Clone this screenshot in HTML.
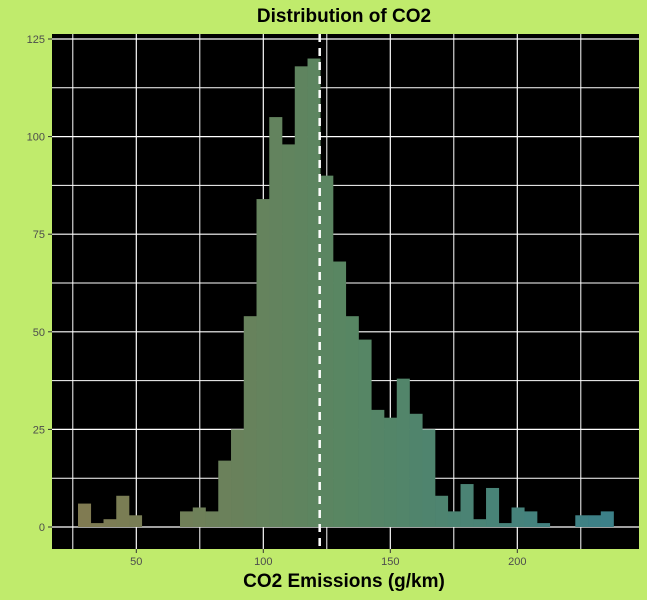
<!DOCTYPE html>
<html><head><meta charset="utf-8"><style>
html,body{margin:0;padding:0;background:#c0eb6c;}
svg{display:block;font-family:"Liberation Sans",sans-serif;}
</style></head><body>
<svg id="chart" width="647" height="600">
<rect x="0" y="0" width="647" height="600" fill="#c0eb6c"/>
<rect x="52" y="34" width="587" height="515" fill="#000"/>
<g id="grid"></g><g id="bars"></g><g id="axes"></g>
<text x="344" y="22" text-anchor="middle" font-size="19" font-weight="bold" fill="#000">Distribution of CO2</text>
<text x="344" y="587" text-anchor="middle" font-size="19" font-weight="bold" fill="#000">CO2 Emissions (g/km)</text>
</svg>
<script>
const binStart = 27.05;
const binWidth = 5.02;
const counts = [6,1,2,8,3,0,0,0,4,5,4,17,25,54,84,105,98,118,120,90,68,54,48,30,28,38,29,25,8,4,11,2,10,1,5,4,1,0,0,3,3,4];
const meanValue = 122.2;
const xTicks = [50,100,150,200];
const xMinor = [25,75,125,175,225];
const yTicks = [0,25,50,75,100,125];
const yMinor = [12.5,37.5,62.5,87.5,112.5];

const NS="http://www.w3.org/2000/svg";
const X=v=>263.3+(v-100)*2.54;
const Y=v=>527-v*3.904;
function mk(tag,attrs,parent){const e=document.createElementNS(NS,tag);for(const k in attrs)e.setAttribute(k,attrs[k]);parent.appendChild(e);return e;}
const grid=document.getElementById('grid'),bars=document.getElementById('bars'),axes=document.getElementById('axes');
function lerp(a,b,t){return a.map((v,i)=>Math.round(v+(b[i]-v)*t));}
const c0=[128,123,82],c1=[88,134,98],c2=[60,128,136];
function col(t){const c=t<0.5?lerp(c0,c1,t*2):lerp(c1,c2,(t-0.5)*2);return `rgb(${c[0]},${c[1]},${c[2]})`;}
yMinor.forEach(v=>{const l=mk('line',{x1:52,x2:639,y1:Y(v),y2:Y(v),stroke:'#fff','stroke-width':1},grid);

});
xMinor.forEach(v=>{const l=mk('line',{x1:X(v),x2:X(v),y1:34,y2:549,stroke:'#fff','stroke-width':1},grid);

});
yTicks.forEach(v=>{const l=mk('line',{x1:52,x2:639,y1:Y(v),y2:Y(v),stroke:'#fff','stroke-width':1.2},grid);


const t=mk('line',{x1:48,x2:52,y1:Y(v),y2:Y(v),stroke:'#333'},axes);


const tx=mk('text',{x:45,y:Y(v)+4,'text-anchor':'end','font-size':11,fill:'#4d4d4d'},axes);tx.textContent=v;

});
xTicks.forEach(v=>{const l=mk('line',{x1:X(v),x2:X(v),y1:34,y2:549,stroke:'#fff','stroke-width':1.2},grid);


const t=mk('line',{x1:X(v),x2:X(v),y1:549,y2:553,stroke:'#333'},axes);


const tx=mk('text',{x:X(v),y:565,'text-anchor':'middle','font-size':11,fill:'#4d4d4d'},axes);tx.textContent=v;

});
const n=counts.length;
counts.forEach((c,i)=>{if(c<=0)return;const x0=X(binStart+i*binWidth),x1=X(binStart+(i+1)*binWidth);
const r=mk('rect',{x:x0,y:Y(c),width:x1-x0+0.3,height:Y(0)-Y(c),fill:col(i/(n-1))},bars);

});
const m=mk('line',{x1:X(meanValue),x2:X(meanValue),y1:34,y2:549,stroke:'#fff','stroke-width':2.5,'stroke-dasharray':'8,6'},bars);


</script>
</body></html>
